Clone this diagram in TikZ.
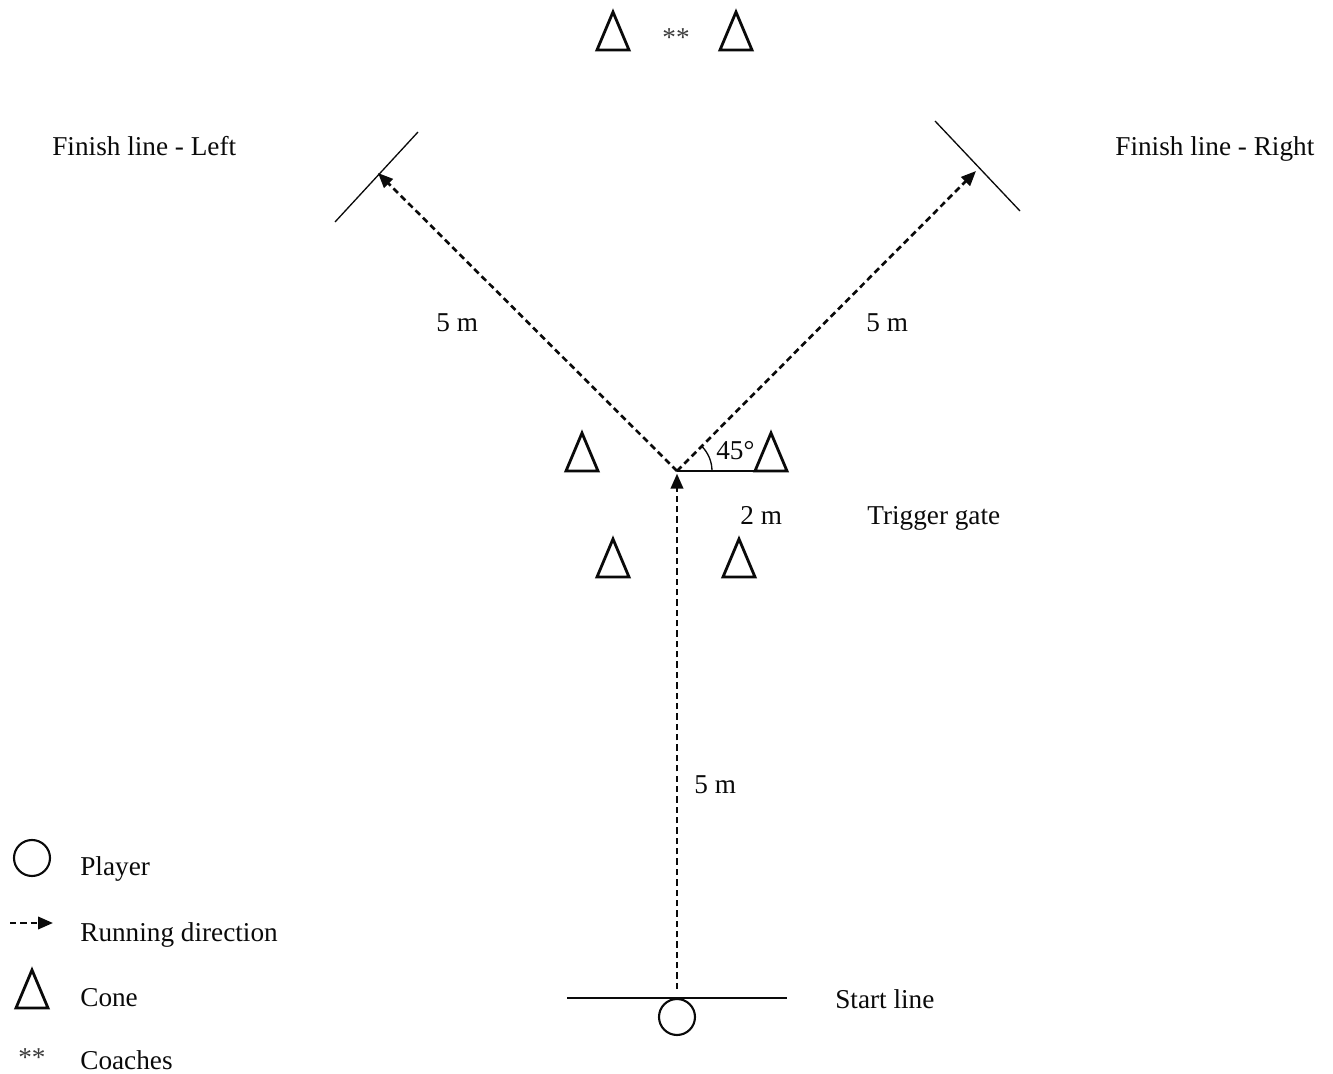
\documentclass[tikz,border=0pt]{standalone}
\usepackage{fontspec}
\setmainfont{Liberation Serif}
\usetikzlibrary{arrows.meta,positioning}
\definecolor{ink}{RGB}{10,10,10}
\definecolor{coachgray}{RGB}{60,60,60}

\tikzset{
  pics/cone/.style={code={%
    \draw[ink,line width=1.6pt,line join=miter] (-16,0) -- (0,-38) -- (16,0) -- cycle;}},
  runpath/.style={ink,line width=1.5pt,dash pattern=on 3.6pt off 2.3pt,
    -{Triangle[length=8.5pt,width=7pt]}},
  markline/.style={ink,line width=0.75pt},
  player/.style={circle,draw=ink,line width=1.2pt,inner sep=0pt,minimum size=0.72cm},
  lbl/.style={inner sep=0pt,anchor=base west,text=ink,font=\fontsize{15.5}{18}\selectfont},
  coachmark/.style={inner sep=0pt,anchor=base,text=coachgray,font=\fontsize{15.5}{18}\selectfont},
}

\begin{document}
\begin{tikzpicture}[x=0.02cm,y=-0.02cm]
  \useasboundingbox (0,0) rectangle (1333,1074);

  % course points
  \coordinate (turn) at (677,471);
  \coordinate (finL) at (378,173);
  \coordinate (finR) at (976,171);
  \node[player] (player) at (677,1017) {};

  % start and finish lines
  \draw[markline] (567,998) -- (787,998);
  \draw[markline] (335,222) -- (418,132);
  \draw[markline] (935,121) -- (1020,211);

  % running paths
  \draw[runpath,shorten <=5pt,shorten >=1.5pt] (player.north) -- (turn);
  \draw[runpath] (turn) -- (finL);
  \draw[runpath] (turn) -- (finR);

  % angle
  \draw[markline] (turn) -- (756,471);
  \draw[markline] ([xshift=0.7cm]turn) arc[start angle=0,end angle=45,radius=0.7cm];

  % cones
  \coordinate (coneTL) at (613,50);
  \coordinate (coneTR) at (736,50);
  \coordinate (coneML) at (582,471);
  \coordinate (coneMR) at (771,471);
  \coordinate (coneBL) at (613,577);
  \coordinate (coneBR) at (739,577);
  \foreach \c in {coneTL,coneTR,coneML,coneMR,coneBL,coneBR}
    \pic at (\c) {cone};
  \node[coachmark] (coaches) at (676,47) {**};

  % labels
  \node[lbl] (finLtxt) at (52,156) {Finish line - Left};
  \node[lbl] (finRtxt) at (1115,156) {Finish line - Right};
  \node[lbl] (distL) at (436,332) {5 m};
  \node[lbl] (distR) at (866,332) {5 m};
  \node[lbl] (distV) at (694,793) {5 m};
  \node[lbl] (angle) at (716,460) {45°};
  \node[lbl] (gatew) at (740,525) {2 m};
  \node[lbl] (trigger) at (867,525) {Trigger gate};
  \node[lbl] (start) at (835,1008) {Start line};

  % legend
  \node[player] (lgPlayer) at (32,858) {};
  \coordinate (lgArrS) at (10,923);
  \coordinate (lgArrE) at (53,923);
  \draw[runpath] (lgArrS) -- (lgArrE);
  \coordinate (lgCone) at (32,1008);
  \pic at (lgCone) {cone};
  \node[coachmark] (lgCoach) at (32,1066) {**};
  \node[lbl] (lgPlayerTxt) at (80,875) {Player};
  \node[lbl] (lgRunTxt) at (80,941) {Running direction};
  \node[lbl] (lgConeTxt) at (80,1006) {Cone};
  \node[lbl] (lgCoachTxt) at (80,1069) {Coaches};
\end{tikzpicture}
\end{document}
